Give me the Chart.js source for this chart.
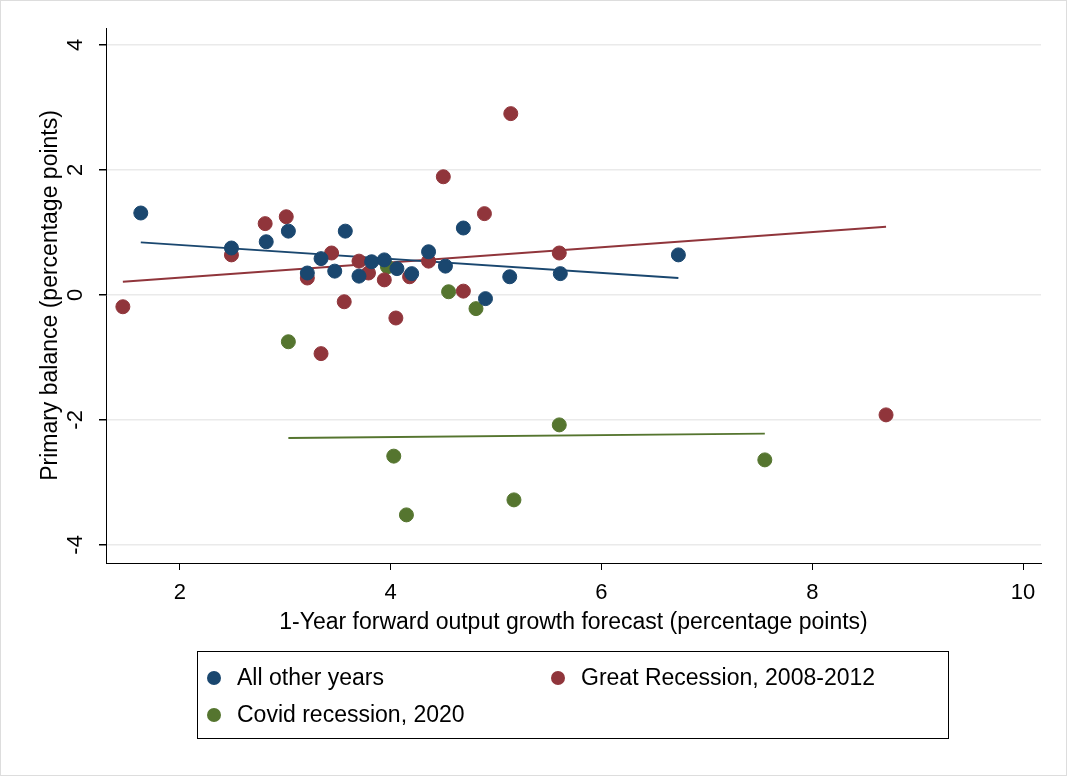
<!DOCTYPE html>
<html><head><meta charset="utf-8">
<script src="https://cdn.jsdelivr.net/npm/chart.js@4"></script>
<style>html,body{margin:0;padding:0;background:#fff}#w{width:1065px;height:774px;border:1px solid #ddd}</style>
</head><body><div id="w"><canvas id="c" width="1065" height="774"></canvas></div>
<script>
const blueX=[1.63,2.49,2.82,3.03,3.21,3.34,3.47,3.57,3.70,3.82,3.94,4.06,4.20,4.36,4.52,4.69,4.90,5.13,5.61,6.73];
const blueY=[1.31,0.75,0.85,1.02,0.35,0.58,0.38,1.02,0.30,0.53,0.56,0.42,0.34,0.69,0.46,1.07,-0.06,0.29,0.34,0.64];
const redX=[1.46,2.49,2.81,3.01,3.21,3.34,3.44,3.56,3.70,3.79,3.94,4.05,4.18,4.36,4.50,4.69,4.89,5.14,5.60,8.70];
const redY=[-0.19,0.64,1.14,1.25,0.27,-0.94,0.67,-0.11,0.54,0.35,0.24,-0.37,0.29,0.54,1.89,0.06,1.30,2.90,0.67,-1.92];
const greenX=[3.03,3.97,4.55,4.81,4.03,4.15,5.17,5.60,7.55];
const greenY=[-0.75,0.45,0.05,-0.22,-2.58,-3.52,-3.28,-2.08,-2.64];
const blueFitX=[1.63,6.73], blueFitY=[0.84,0.27];
const redFitX=[1.46,8.70], redFitY=[0.21,1.09];
const greenFitX=[3.03,7.55], greenFitY=[-2.29,-2.22];
const labels=["All other years","Great Recession, 2008-2012","Covid recession, 2020"];
const colors=["#1a476f","#90353b","#55752f"];
const xTicks=[2,4,6,8,10], yTicks=[-4,-2,0,2,4];
const FONT='"Liberation Sans", Arial';
const pts=(xs,ys)=>xs.map((x,i)=>({x,y:ys[i]}));
const sc=(xs,ys,c,l)=>({type:'scatter',label:l,data:pts(xs,ys),backgroundColor:c,borderColor:c,pointRadius:7,pointHoverRadius:7});
const ln=(xs,ys,c)=>({type:'line',label:'',data:pts(xs,ys),borderColor:c,borderWidth:2,pointRadius:0,fill:false});
const legendPlugin={id:'lg',afterDraw(ch){const g=ch.ctx;g.save();g.strokeStyle='#000';g.lineWidth=1;g.strokeRect(196.5,650.5,751,87);
g.font='23px '+FONT;g.textBaseline='middle';
const items=[[213,677,0],[557,677,1],[213,714,2]];
items.forEach(([x,y,i])=>{g.fillStyle=colors[i];g.beginPath();g.arc(x,y,7,0,Math.PI*2);g.fill();g.fillStyle='#000';g.fillText(labels[i],x+23,y+1);});
// y tick labels, rotated to read bottom-to-top
const ys=ch.scales.y;g.font='22px '+FONT;g.fillStyle='#000';g.textAlign='center';g.textBaseline='middle';
yTicks.forEach(v=>{const py=ys.getPixelForValue(v);g.save();g.translate(ys.right-30,py);g.rotate(-Math.PI/2);g.fillText(String(v).replace('-','-'),0,0);g.restore();});
g.restore();}};
new Chart(document.getElementById('c'),{
data:{datasets:[sc(blueX,blueY,colors[0],labels[0]),sc(redX,redY,colors[1],labels[1]),sc(greenX,greenY,colors[2],labels[2]),ln(blueFitX,blueFitY,colors[0]),ln(redFitX,redFitY,colors[1]),ln(greenFitX,greenFitY,colors[2])]},
options:{responsive:false,animation:false,layout:{padding:{left:32,right:25,top:27,bottom:135}},
plugins:{legend:{display:false},tooltip:{enabled:false}},
scales:{
x:{type:'linear',min:1.3,max:10.17,afterBuildTicks:a=>{a.ticks=xTicks.map(v=>({value:v}))},afterFit:a=>{a.height=77},
border:{color:'#000',width:1},grid:{drawOnChartArea:false,tickLength:7,color:'#000'},
ticks:{color:'#000',font:{size:22,family:FONT},maxRotation:0,padding:10},
title:{display:true,text:'1-Year forward output growth forecast (percentage points)',color:'#000',font:{size:23,family:FONT},padding:{top:0}}},
y:{type:'linear',min:-4.29,max:4.27,afterBuildTicks:a=>{a.ticks=yTicks.map(v=>({value:v}))},afterFit:a=>{a.width=73},
border:{color:'#000',width:1},grid:{color:'#eaeaea',tickColor:'#000',tickLength:7,lineWidth:1.5},
ticks:{display:false},
title:{display:true,text:'Primary balance (percentage points)',color:'#000',font:{size:23,family:FONT},padding:{bottom:2}}}}},
plugins:[legendPlugin]});
</script></body></html>
